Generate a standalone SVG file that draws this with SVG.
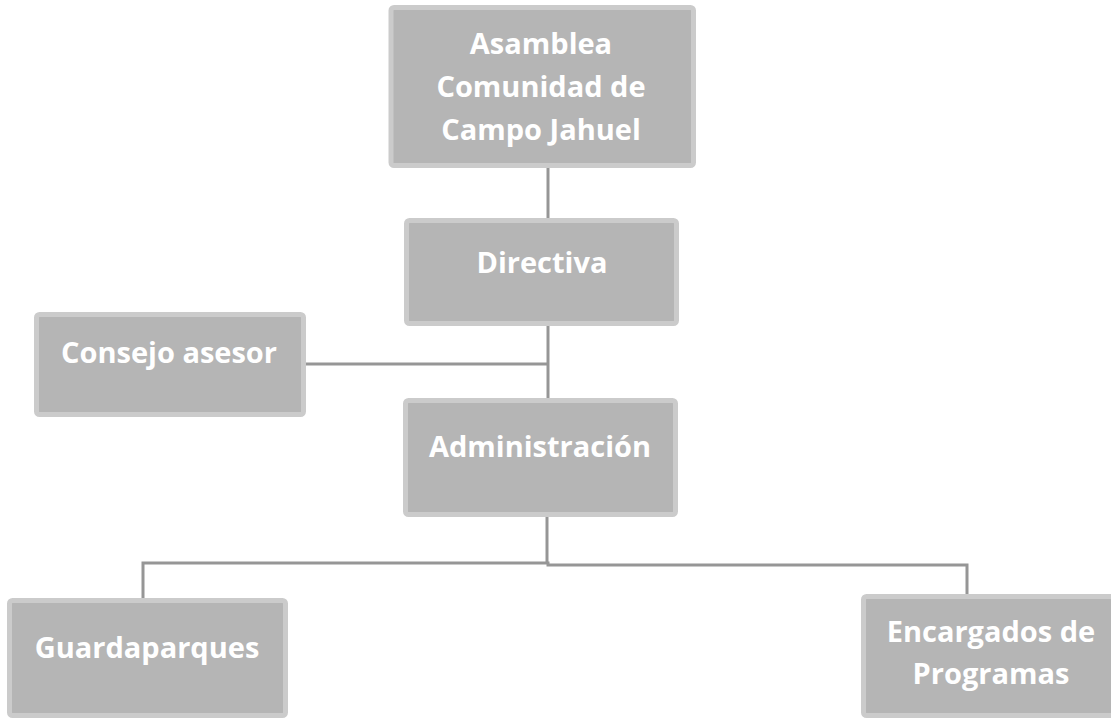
<svg xmlns="http://www.w3.org/2000/svg" width="1111" height="718" viewBox="0 0 1111 718">
<style>
.box{fill:#b5b5b5;stroke:#cbcbcb;stroke-width:5}
.t{font-family:"Open Sans","Liberation Sans",sans-serif;font-weight:bold;font-size:29px;fill:#ffffff;text-anchor:middle}
.c{fill:none;stroke:#969696;stroke-width:3}
</style>
<rect width="1111" height="718" fill="#ffffff"/>
<g id="connectors">
<line class="c" x1="548" y1="168" x2="548" y2="218"/>
<line class="c" x1="548" y1="326" x2="548" y2="398"/>
<line class="c" x1="306" y1="364" x2="548" y2="364"/>
<line class="c" x1="547" y1="517" x2="547" y2="563"/>
<polyline class="c" points="143,598 143,563 548,563 548,565 967,565 967,594"/>
</g>
<g id="asamblea">
<rect class="box" x="391" y="7.5" width="302.5" height="158" rx="3"/>
<text class="t" x="541" y="54">Asamblea</text>
<text class="t" x="541" y="97">Comunidad de</text>
<text class="t" x="541" y="140">Campo Jahuel</text>
</g>
<g id="directiva">
<rect class="box" x="406.5" y="220.5" width="270" height="103" rx="3"/>
<text class="t" x="542" y="273">Directiva</text>
</g>
<g id="consejo">
<rect class="box" x="36.5" y="314.5" width="267" height="100" rx="3"/>
<text class="t" x="169" y="363">Consejo asesor</text>
</g>
<g id="administracion">
<rect class="box" x="405.5" y="400.5" width="270" height="114" rx="3"/>
<text class="t" x="540" y="457">Administración</text>
</g>
<g id="guardaparques">
<rect class="box" x="9.5" y="600.5" width="276" height="115" rx="3"/>
<text class="t" x="147" y="658">Guardaparques</text>
</g>
<g id="encargados">
<rect class="box" x="863.5" y="596.5" width="250" height="119" rx="3"/>
<text class="t" x="991" y="642">Encargados de</text>
<text class="t" x="991" y="684">Programas</text>
</g>
</svg>
